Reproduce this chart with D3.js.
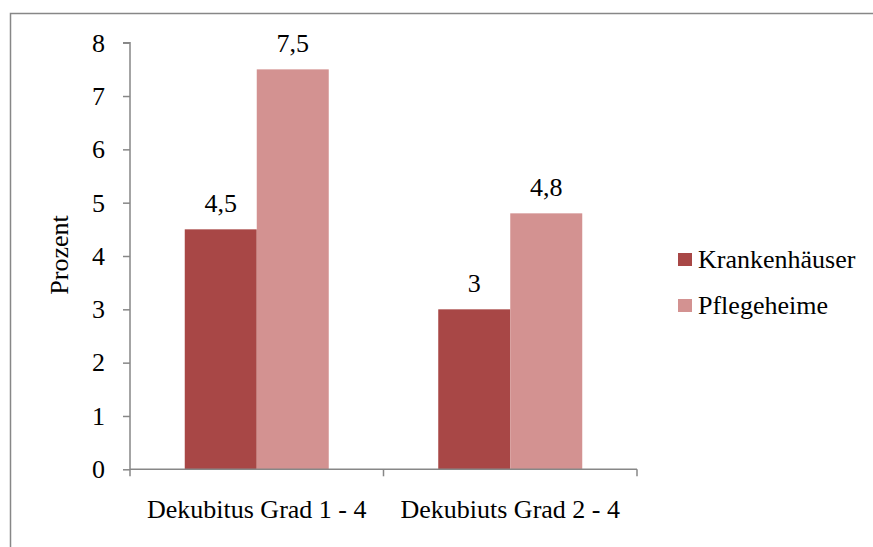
<!DOCTYPE html>
<html>
<head>
<meta charset="utf-8">
<script src="https://cdn.jsdelivr.net/npm/d3@7"></script>
<style>
  html, body { margin: 0; padding: 0; background: #fff; }
  svg { display: block; }
  svg text { font-family: "Liberation Serif", "Times New Roman", serif; fill: #000; }
</style>
</head>
<body>
<svg id="chart" width="873" height="547"></svg>
<script>
// Data
const categories = ["Dekubitus Grad 1 - 4", "Dekubiuts Grad 2 - 4"];
const seriesNames = ["Krankenhäuser", "Pflegeheime"];
const krankenhaeuser = [4.5, 3];
const pflegeheime = [7.5, 4.8];
const valueLabels = [["4,5", "3"], ["7,5", "4,8"]];
const yTicks = [0, 1, 2, 3, 4, 5, 6, 7, 8];
const yTitle = "Prozent";

const seriesValues = [krankenhaeuser, pflegeheime];
const colors = ["#A84746", "#D39291"];
const FONT = "Liberation Serif, Times New Roman, serif";
const FS = 26;

const svg = d3.select("#chart");

// Outer frame
svg.append("rect")
  .attr("x", 10.5).attr("y", 13.5)
  .attr("width", 900).attr("height", 600)
  .attr("fill", "none")
  .attr("stroke", "#878787")
  .attr("stroke-width", 1.5);

const plot = { left: 130, right: 637, top: 42.7, bottom: 469.3 };

const x = d3.scaleBand()
  .domain(categories)
  .range([plot.left, plot.right])
  .paddingInner(0)
  .paddingOuter(0);

const y = d3.scaleLinear()
  .domain([0, 8])
  .range([plot.bottom, plot.top]);

const groupInnerPad = 54.75;
const xSub = d3.scaleBand()
  .domain(d3.range(seriesNames.length))
  .range([groupInnerPad, x.bandwidth() - groupInnerPad]);

// Bars with value labels
seriesValues.forEach((vals, si) => {
  svg.append("g").selectAll("rect")
    .data(vals)
    .join("rect")
    .attr("x", (d, i) => x(categories[i]) + xSub(si))
    .attr("y", d => y(d))
    .attr("width", xSub.bandwidth())
    .attr("height", d => y(0) - y(d))
    .attr("fill", colors[si]);

  svg.append("g").selectAll("text")
    .data(vals)
    .join("text")
    .attr("x", (d, i) => x(categories[i]) + xSub(si) + xSub.bandwidth() / 2)
    .attr("y", d => y(d) - 17.5)
    .attr("text-anchor", "middle")
    .attr("font-family", FONT)
    .attr("font-size", FS)
    .text((d, i) => valueLabels[si][i]);
});

// Y axis
const yAxis = svg.append("g")
  .attr("transform", `translate(${plot.left},0)`)
  .call(d3.axisLeft(y).tickValues(yTicks).tickSize(7).tickPadding(18).tickFormat(d3.format("d")));
yAxis.attr("font-family", FONT).attr("font-size", FS);
yAxis.selectAll("path, line").attr("stroke", "#878787").attr("stroke-width", 1.5);
yAxis.select(".domain").attr("d", `M-7,${plot.top}H0V${plot.bottom}`);
yAxis.selectAll("text").attr("fill", "#000");

// X axis
const xAxis = svg.append("g")
  .attr("transform", `translate(0,${plot.bottom})`);
xAxis.append("path")
  .attr("d", `M${plot.left},0H${plot.right}`)
  .attr("stroke", "#878787").attr("stroke-width", 1.5).attr("fill", "none");
const xTickPos = [plot.left, ...categories.slice(1).map(c => x(c)), plot.right];
xAxis.selectAll("line.tick")
  .data(xTickPos)
  .join("line")
  .attr("class", "tick")
  .attr("x1", d => d).attr("x2", d => d)
  .attr("y1", 0).attr("y2", 7)
  .attr("stroke", "#878787").attr("stroke-width", 1.5);
xAxis.selectAll("text")
  .data(categories)
  .join("text")
  .attr("x", d => x(d) + x.bandwidth() / 2)
  .attr("y", 48.5)
  .attr("text-anchor", "middle")
  .attr("font-family", FONT)
  .attr("font-size", FS)
  .text(d => d);

// Y title
svg.append("text")
  .attr("transform", `translate(68,255) rotate(-90)`)
  .attr("text-anchor", "middle")
  .attr("font-family", FONT)
  .attr("font-size", FS)
  .text(yTitle);

// Legend
const legend = svg.append("g").attr("transform", "translate(678,253)");
seriesNames.forEach((name, i) => {
  const g = legend.append("g").attr("transform", `translate(0,${i * 46})`);
  g.append("rect").attr("width", 14).attr("height", 13).attr("fill", colors[i]);
  g.append("text").attr("x", 20).attr("y", 15)
    .attr("font-family", FONT).attr("font-size", FS).text(name);
});
</script>
</body>
</html>
